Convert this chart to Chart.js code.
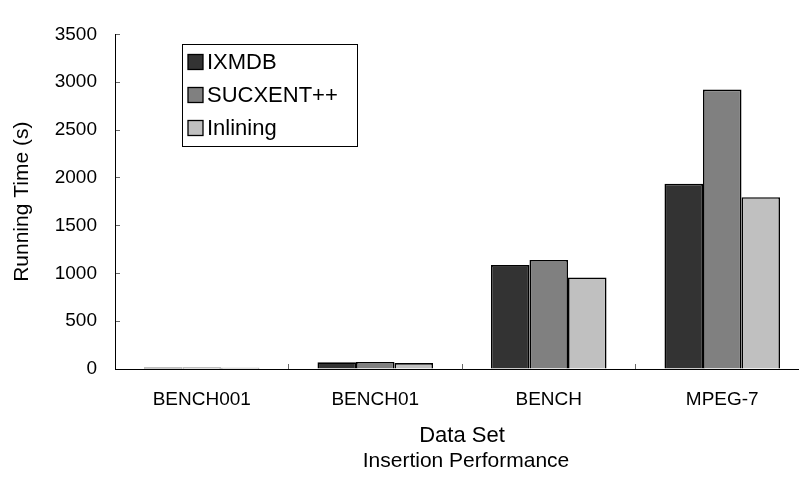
<!DOCTYPE html>
<html><head><meta charset="utf-8">
<script src="https://cdn.jsdelivr.net/npm/chart.js@4.4.0/dist/chart.umd.min.js"></script>
<style>html,body{margin:0;padding:0;overflow:hidden;background:#fff;width:799px;height:481px}</style>
</head><body>
<canvas id="c" width="812" height="481" style="display:block;width:812px;height:481px"></canvas>
<script>
const categories = ['BENCH001', 'BENCH01', 'BENCH', 'MPEG-7'];
const seriesNames = ['IXMDB', 'SUCXENT++', 'Inlining'];
const ixmdb = [15, 70, 1087, 1937];
const sucxent = [16, 73, 1140, 2923];
const inlining = [12, 62, 957, 1797];
const yTickValues = [0, 500, 1000, 1500, 2000, 2500, 3000, 3500];
const xTitle = 'Data Set';
const caption = 'Insertion Performance';
const yTitle = 'Running Time (s)';
const fills = ['#333333', '#808080', '#c0c0c0'];

Chart.defaults.font.family = '"Liberation Sans", Arial, Helvetica, sans-serif';
Chart.defaults.color = '#000';

const PLOT = {left: 115, top: 19, bottom: 369};
const H = 481;

const boxLegend = {
  id: 'boxLegend',
  afterDraw(chart) {
    const ctx = chart.ctx;
    const x0 = 182, y0 = 44, w = 175, h = 102;
    ctx.save();
    ctx.fillStyle = '#fff';
    ctx.fillRect(x0, y0, w, h);
    ctx.strokeStyle = '#000';
    ctx.lineWidth = 1;
    ctx.strokeRect(x0 + 0.5, y0 + 0.5, w, h);
    ctx.font = '22px "Liberation Sans", Arial, sans-serif';
    ctx.textBaseline = 'middle';
    ctx.textAlign = 'left';
    chart.data.datasets.forEach((ds, i) => {
      const cy = 62 + i * 33;
      ctx.fillStyle = ds.backgroundColor;
      ctx.fillRect(188, cy - 7.5, 15, 15);
      ctx.strokeStyle = '#000';
      ctx.lineWidth = 1.3;
      ctx.strokeRect(188, cy - 7.5, 15, 15);
      ctx.fillStyle = '#000';
      ctx.fillText(ds.label, 207, cy + 1);
    });
    const a = chart.chartArea;
    ctx.font = '21px "Liberation Sans", Arial, sans-serif';
    ctx.textAlign = 'center';
    ctx.fillStyle = '#000';
    ctx.fillText(caption, (a.left + a.right) / 2 + 4, 461);
    ctx.restore();
  }
};

new Chart(document.getElementById('c'), {
  type: 'bar',
  data: {
    labels: categories,
    datasets: [
      {label: seriesNames[0], data: ixmdb, backgroundColor: fills[0]},
      {label: seriesNames[1], data: sucxent, backgroundColor: fills[1]},
      {label: seriesNames[2], data: inlining, backgroundColor: fills[2]}
    ].map(d => Object.assign(d, {borderColor: '#000', borderWidth: 1.6, categoryPercentage: 0.666, barPercentage: 1}))
  },
  options: {
    responsive: false,
    animation: false,
    layout: {padding: {top: PLOT.top, right: 3, left: 0, bottom: 0}},
    plugins: {legend: {display: false}, tooltip: {enabled: false}},
    scales: {
      x: {
        grid: {offset: true, drawOnChartArea: false, drawTicks: true, tickLength: -5, color: '#666'},
        border: {display: true, color: '#000', width: 1},
        ticks: {font: {size: 19}, padding: 24, maxRotation: 0},
        title: {display: true, text: xTitle, font: {size: 22, lineHeight: 1.2}, padding: {top: 0, bottom: 32}},
        afterFit(s) { s.height = H - PLOT.bottom; }
      },
      y: {
        min: 0, max: 3500,
        afterBuildTicks(s) { s.ticks = yTickValues.map(v => ({value: v})); },
        grid: {drawOnChartArea: false, drawTicks: true, tickLength: -5, color: '#666'},
        border: {display: true, color: '#000', width: 1},
        ticks: {font: {size: 19}, padding: 23, callback: v => String(v)},
        title: {display: true, text: yTitle, font: {size: 21, lineHeight: 1.2}, padding: {top: 10, bottom: 0}},
        afterFit(s) { s.width = PLOT.left; }
      }
    }
  },
  plugins: [boxLegend]
});
</script>
</body></html>
